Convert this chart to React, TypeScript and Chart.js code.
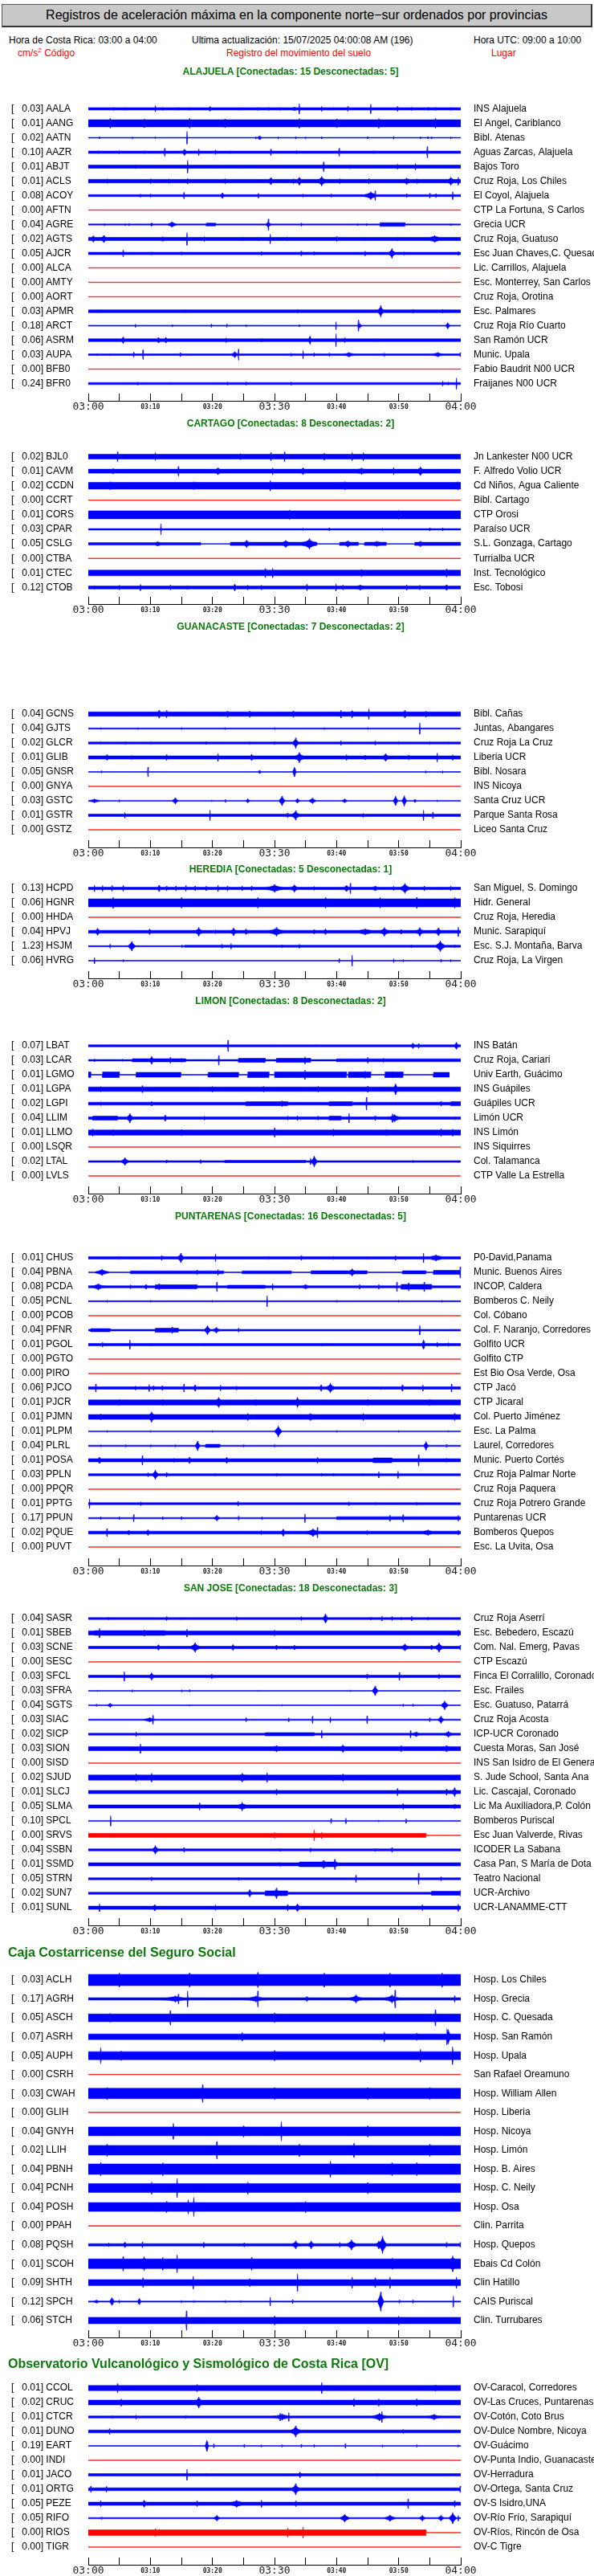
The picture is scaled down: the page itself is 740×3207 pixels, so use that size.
import React, { useEffect, useRef } from "react";
import { Chart, registerables } from "chart.js";

Chart.register(...registerables);

const FONT = "'Liberation Sans', Arial, Helvetica, sans-serif";
const MONO = "'DejaVu Sans Mono', monospace";
const BLUE = "#0000ff";
const RED = "#ff0000";
const GREEN = "#0b7a0b";
const FLAT = 0.35;

// ---------- time axis ----------
const timeTickValues = [0, 5, 10, 15, 20, 25, 30, 35, 40, 45, 50, 55, 60];
const timeTickLabels = ["03:00", "", "03:10", "", "03:20", "", "03:30", "", "03:40", "", "03:50", "", "04:00"];
const majorTimeTicks = [0, 30, 60];

// signal end (minutes after 03:00) when the record stops early
const signalEnd: Record<string, number> = { LGMO: 58.2, SRVS: 54.4, RIOS: 54.4 };

// events: [minute, amplitude] spike, or [minute, amplitude, duration] burst
// segments: [fromMinute, toMinute, amplitude]

// ---------- ALAJUELA ----------
const alajuelaCodes = ["AALA", "AANG", "AATN", "AAZR", "ABJT", "ACLS", "ACOY", "AFTN", "AGRE", "AGTS", "AJCR", "ALCA", "AMTY", "AORT", "APMR", "ARCT", "ASRM", "AUPA", "BFB0", "BFR0"];
const alajuelaPga = [0.03, 0.01, 0.02, 0.10, 0.01, 0.01, 0.08, 0, 0.04, 0.02, 0.05, 0, 0, 0, 0.03, 0.18, 0.06, 0.03, 0, 0.24];
const alajuelaPlaces = ["INS Alajuela", "El Angel, Cariblanco", "Bibl. Atenas", "Aguas Zarcas, Alajuela", "Bajos Toro", "Cruz Roja, Los Chiles", "El Coyol, Alajuela", "CTP La Fortuna, S Carlos", "Grecia UCR", "Cruz Roja, Guatuso", "Esc Juan Chaves,C. Quesada", "Lic. Carrillos, Alajuela", "Esc. Monterrey, San Carlos", "Cruz Roja, Orotina", "Esc. Palmares", "Cruz Roja Río Cuarto", "San Ramón UCR", "Munic. Upala", "Fabio Baudrit N00 UCR", "Fraijanes N00 UCR"];
const alajuelaBase = [1.5, 4.5, 0.45, 1.5, 2, 2.2, 1.2, 0.3, 0.7, 2, 1.5, 0.3, 0.3, 0.3, 1.8, 0.6, 1.8, 1, 0.3, 1.3];
const alajuelaEvents = [
  [[4.1, 2], [5.9, 1.8], [10.8, 4], [12, 2, 2], [14.5, 1.8], [16.3, 1.8], [19.6, 3, 0.5], [24.2, 1.8], [27.3, 2, 0.8], [29, 2, 1], [30.9, 2], [33.2, 2.5, 1.5], [34, 6.5], [37.6, 3], [39.5, 1.8], [41.8, 3], [45.5, 6], [49.8, 3, 0.8], [52, 2, 1], [54.7, 2], [55.9, 2], [58.4, 2]],
  [[3.5, 6], [9, 5.5], [16.3, 6], [22, 5.5], [34, 6], [40, 5.5], [46.8, 6], [55.9, 6]],
  [[1.8, 1.5], [7.1, 1.3], [10.8, 1.3], [15.9, 8], [27, 1.5], [27.6, 2.5, 0.8], [30.6, 1.5], [33.4, 1.5], [35, 1.3], [37.6, 1.5], [45, 1.5], [49.2, 1.8], [53.5, 1.5], [54.7, 1.5], [55.3, 1.5], [58.4, 1.3]],
  [[1.6, 1.8], [5, 2], [9, 1.8], [12.3, 5], [15.5, 4, 1.2], [17.8, 4], [20.5, 3], [23, 1.8], [29.4, 4], [33.5, 2], [40.4, 5], [46, 1.8], [54.6, 7]],
  [[7.6, 2.5], [13.5, 2.2], [16, 8], [20.9, 2.2], [25, 2.2], [37.9, 6], [37.9, 3.5, 0.8], [42.2, 2.5], [49.8, 3], [52.7, 4]],
  [[3, 2.8], [10, 3, 2], [13, 3, 2], [16, 3.5], [22, 3], [29.4, 4.5, 1.2], [33, 3, 1], [34, 5, 1.2], [37.6, 6, 1.6], [40.5, 3], [45.2, 3.5], [51.3, 4, 1.8], [53, 3], [58.4, 5, 1.6], [59.6, 5]],
  [[8.4, 2], [10, 2], [15.4, 4], [21.6, 3.5, 0.7], [27.4, 3], [34.6, 2], [39.1, 2], [45.5, 5, 2.2], [46.2, 6], [51.3, 2.5], [55, 3], [56, 2.5], [58.7, 5]],
  [],
  [[2.6, 1.5], [5.9, 1.5], [6.5, 1.5], [10.2, 2, 0.8], [13.5, 3.5, 1.5], [29, 7], [29, 4, 0.9], [34.3, 2], [43.4, 1.5], [44.8, 1.5], [58.4, 1.5]],
  [[0.8, 4, 1.2], [2.5, 4.5, 1.4], [12, 3], [15.9, 8], [18.7, 3], [24.8, 2.5], [27.5, 2.5], [29.3, 6], [32, 2.5], [40, 3], [44.6, 2.5], [49.8, 2.5], [55.8, 4.5, 3]],
  [[5.6, 4], [10.2, 2], [15, 2], [27.9, 2.5], [34.3, 3], [36.4, 2.5], [44.6, 3], [48.9, 6, 1], [50.9, 2], [59.6, 2.5]],
  [], [], [],
  [[2, 2], [15.7, 2], [33.7, 2.5], [47.1, 7, 1], [52.3, 2.5], [57.1, 2.5]],
  [[7.6, 2], [13.5, 1.5], [19.8, 2], [22.3, 2], [25.4, 1.5], [34, 1.5], [39.9, 5], [43.5, 7], [43.7, 3, 0.8], [57.9, 4, 0.8]],
  [[5.6, 4, 1], [11.3, 3.5, 0.8], [12.5, 3.5, 1], [22.2, 3], [27.9, 2.5], [35.7, 5, 0.6], [39.9, 8], [41.3, 3], [46.2, 2]],
  [[1.5, 1.5], [3.6, 1.5], [7.3, 3], [8.8, 6], [14.8, 2.5], [23.6, 4, 1.2], [24.2, 7], [32.7, 2], [34.6, 5], [36.4, 2.5], [38.8, 2], [42, 3, 2], [47.7, 2], [56.3, 3, 2], [59.9, 2.5]],
  [],
  [[8, 2], [13.2, 1.5], [22.4, 2], [25.4, 2], [32.7, 2], [57.1, 3], [58, 2], [59.3, 7]],
];
const alajuelaSegs: Record<string, number[][]> = { AGRE: [[19, 20.5, 1.8], [47, 51, 2.3]] };

// ---------- CARTAGO ----------
const cartagoCodes = ["BJL0", "CAVM", "CCDN", "CCRT", "CORS", "CPAR", "CSLG", "CTBA", "CTEC", "CTOB"];
const cartagoPga = [0.02, 0.01, 0.02, 0, 0.01, 0.03, 0.05, 0, 0.01, 0.12];
const cartagoPlaces = ["Jn Lankester N00 UCR", "F. Alfredo Volio UCR", "Cd Niños, Agua Caliente", "Bibl. Cartago", "CTP Orosi", "Paraíso UCR", "S.L. Gonzaga, Cartago", "Turrialba UCR", "Inst. Tecnológico", "Esc. Tobosi"];
const cartagoBase = [3, 2.5, 4.2, 0.3, 5, 0.9, 0.45, 0.3, 3.5, 1.8];
const cartagoEvents = [
  [[4.7, 6], [10.8, 5], [24.5, 4, 2.5], [29.4, 5], [31.6, 6], [38, 4.5], [42.5, 5], [44.3, 5]],
  [[4, 3.5, 2], [14.5, 6], [20.9, 4.5, 1.5], [29.7, 4], [34.6, 4.5, 1.2], [44, 4, 3], [49.2, 4.5], [53.5, 5.5, 1.5]],
  [[3.5, 5, 5], [17, 5], [29.3, 6.5], [41.3, 5], [59.5, 5]],
  [],
  [[32.4, 6, 2], [50, 5.5, 3]],
  [[11.7, 7], [34.6, 1.5], [38.8, 2], [47.4, 1.5], [55, 2], [57.1, 2]],
  [[11.2, 3, 2], [25.5, 4.5, 1.5], [31.8, 4.5, 2], [35.6, 6.5, 2.5], [41.8, 4, 1.8], [46.5, 3.5, 2.5], [53.5, 3.5, 1.5]],
  [],
  [[28.5, 5.5], [29.7, 6], [44, 4.5], [57.7, 5]],
  [[1, 2.5], [5, 3], [8.4, 4], [13.2, 3], [16, 2.5], [23.6, 4.5, 0.8], [25.7, 3], [27.9, 3], [35.2, 4], [39.9, 4.5], [41, 3], [43.8, 3.5, 2.5], [51.3, 3.5], [53.4, 3], [57.7, 3.5, 1.2]],
];
const cartagoSegs: Record<string, number[][]> = { CSLG: [[0, 18.1, 1.5], [22.9, 36.8, 2], [40.5, 43.5, 2], [44.5, 48, 2], [52.6, 60, 2]] };

// ---------- GUANACASTE ----------
const guanacasteCodes = ["GCNS", "GJTS", "GLCR", "GLIB", "GNSR", "GNYA", "GSTC", "GSTR", "GSTZ"];
const guanacastePga = [0.04, 0.04, 0.02, 0.01, 0.05, 0, 0.03, 0.01, 0];
const guanacastePlaces = ["Bibl. Cañas", "Juntas, Abangares", "Cruz Roja La Cruz", "Liberia UCR", "Bibl. Nosara", "INS Nicoya", "Santa Cruz UCR", "Parque Santa Rosa", "Liceo Santa Cruz"];
const guanacasteBase = [2.7, 0.7, 1.3, 2, 0.5, 0.3, 0.6, 1.5, 0.3];
const guanacasteEvents = [
  [[11.4, 5, 1], [12.6, 4.5], [22.4, 4], [26, 4, 1.2], [33, 4], [40.7, 5], [42.5, 4.5, 1], [45.2, 6.5], [51, 5, 1], [54.4, 4]],
  [[2, 1.3], [8, 1.3], [15, 1.3], [22, 1.3], [30, 1.3], [38, 1.3], [45, 1.3], [53.4, 7]],
  [[2, 1.8], [6, 2], [10, 1.8], [19, 2], [26, 1.8], [30, 2], [33.4, 6.5, 1], [40.7, 3], [46.2, 2.5], [50, 1.8], [55, 1.8], [58, 1.8]],
  [[3, 3.5, 1], [7, 2.5], [12.6, 3.5], [20.9, 5], [26.3, 4, 0.8], [34, 6.5, 1.5], [41.6, 3.5], [44.6, 3], [47.9, 5, 1.5], [51.6, 3], [56.2, 5.5], [58.7, 3.5]],
  [[2.1, 1.5], [9.6, 6], [27.6, 2, 0.6], [33.2, 6, 0.6], [54.4, 1.5], [57.1, 1.5]],
  [],
  [[1, 2.5, 2], [5, 1.5], [14, 4, 1], [19.9, 1.2], [22.1, 2], [25.7, 2.5, 0.8], [31.2, 6, 1], [33.7, 3, 0.8], [36.1, 3.5, 1.2], [41.3, 2.5, 1], [49.5, 6, 0.8], [50.9, 6.5, 0.8], [52.6, 2, 0.6], [56.2, 1.2]],
  [[5.9, 3.5], [19.6, 6.5], [32.1, 3], [33.4, 6, 1.2], [44.3, 2.5], [54, 6.5], [55.5, 4]],
  [],
];
const guanacasteSegs: Record<string, number[][]> = {};

// ---------- HEREDIA ----------
const herediaCodes = ["HCPD", "HGNR", "HHDA", "HPVJ", "HSJM", "HVRG"];
const herediaPga = [0.13, 0.06, 0, 0.04, 1.23, 0.06];
const herediaPlaces = ["San Miguel, S. Domingo", "Hidr. General", "Cruz Roja, Heredia", "Munic. Sarapiquí", "Esc. S.J. Montaña, Barva", "Cruz Roja, La Virgen"];
const herediaBase = [1.5, 5, 0.3, 1.8, 0.7, 0.5];
const herediaEvents = [
  [[1, 4], [2.3, 3.5], [3.8, 3.5], [5.6, 3.5], [11.4, 4, 1], [12.6, 3], [14.1, 3], [15.7, 3.5], [17.2, 3], [19, 3], [20.9, 4], [22.4, 3], [24.8, 3], [26.3, 3], [30, 5, 3], [33.2, 4.5, 1.5], [36.4, 2.5], [41.6, 4, 1.5], [42.2, 6.5], [46.2, 3, 2], [49.2, 3], [51, 6.5, 1.5], [54.1, 3], [56.5, 2], [58.4, 3]],
  [[4, 7], [15, 6.5], [27.3, 6.5], [38.2, 6.5], [47, 6.5], [52.9, 7], [59, 6.5]],
  [],
  [[1.5, 4.5, 1.2], [9.9, 3.5, 0.8], [17.8, 5.5, 1.2], [20.5, 2.5], [23.4, 5, 1.2], [25.4, 3.5, 0.8], [30.3, 5.5, 2.5], [36.4, 3, 0.8], [38.2, 3.5, 1], [44.6, 4, 4], [47.7, 5.5, 1.5], [50.4, 3, 1], [53.4, 5.5, 1.2], [56.4, 5, 1.2], [59.6, 6]],
  [[3.5, 2.5], [7, 6, 1.2], [15.1, 2], [21.5, 2.5], [23, 3.5], [31.2, 2], [34, 2.5], [52, 2], [56.7, 7, 1.5], [59, 2]],
  [[1, 4], [5.6, 1.5], [40.4, 2.5], [42.5, 7], [49.2, 2.5], [50.7, 1.5], [56.8, 2], [58.4, 1.5]],
];
const herediaSegs: Record<string, number[][]> = { HSJM: [[15.5, 60, 1.3]] };

// ---------- LIMON ----------
const limonCodes = ["LBAT", "LCAR", "LGMO", "LGPA", "LGPI", "LLIM", "LLMO", "LSQR", "LTAL", "LVLS"];
const limonPga = [0.07, 0.03, 0.01, 0.01, 0.02, 0.04, 0.01, 0, 0.02, 0];
const limonPlaces = ["INS Batán", "Cruz Roja, Cariari", "Univ Earth, Guácimo", "INS Guápiles", "Guápiles UCR", "Limón UCR", "INS Limón", "INS Siquirres", "Col. Talamanca", "CTP Valle La Estrella"];
const limonBase = [1.3, 0.9, 0.45, 2.8, 1.8, 1.5, 3.2, 0.3, 1, 0.3];
const limonEvents = [
  [[3.5, 1.5], [22.5, 7], [29.4, 1.5], [36.7, 1.5], [52.3, 3.5, 0.8], [53.2, 3], [59.3, 4.5, 0.8]],
  [[1, 2], [5.5, 1.5], [10.2, 5, 1], [13.2, 3.5], [15, 2.5], [21, 6], [28.2, 3], [34.9, 4.5], [45, 3.5], [47.5, 2.5]],
  [[0.2, 3.5], [3.6, 3.5], [34.9, 6], [44.6, 4.5], [49, 4]],
  [[2, 3.5], [8.7, 4.5], [20, 3.5], [28.2, 3.5], [37, 3.5], [45, 4], [49.5, 7, 1]],
  [[2, 2.5], [10.2, 3], [31.2, 3.5], [40, 2.5], [44.8, 8], [56.8, 3]],
  [[6.7, 6, 1], [12.4, 4, 0.8], [18.7, 2.5], [32.1, 2.5], [33.7, 3], [37, 2.5], [42, 6], [46.2, 3], [49.3, 4.5, 2.5], [49, 5.5], [59, 2]],
  [[0.7, 4.5], [4, 4], [15, 4], [30, 6], [39.5, 4.5], [48, 4], [56.8, 4.5], [58.7, 4.5]],
  [],
  [[5.9, 5, 1.2], [12.6, 2], [18.1, 2.5], [35.8, 4], [36.4, 7, 1], [52.3, 1.5], [59.6, 1.5]],
  [],
];
const limonSegs: Record<string, number[][]> = {
  LCAR: [[7.1, 15.7, 2], [24.2, 28.5, 2.5], [30.3, 35.8, 2.5], [40, 60, 1.8]],
  LGMO: [[0, 0.4, 3.5], [2.3, 5, 3.5], [7.7, 14.9, 3], [19.3, 24.2, 3], [25.7, 29.1, 3.5], [30, 41.6, 3.5], [41.9, 45.5, 3.5], [47.8, 50.7, 3.5], [55.6, 58.2, 3]],
  LGPI: [[25.4, 32.1, 2.5], [38.8, 42.5, 2.5], [58.4, 60, 2.5]],
  LLIM: [[0.7, 4.7, 2.5], [38.8, 40.7, 2.5]],
  LTAL: [[22, 35, 1.5]],
};

// ---------- PUNTARENAS ----------
const puntarenasCodes = ["CHUS", "PBNA", "PCDA", "PCNL", "PCOB", "PFNR", "PGOL", "PGTO", "PIRO", "PJCO", "PJCR", "PJMN", "PLPM", "PLRL", "POSA", "PPLN", "PPQR", "PPTG", "PPUN", "PQUE", "PUVT"];
const puntarenasPga = [0.01, 0.04, 0.08, 0.05, 0, 0.04, 0.01, 0, 0, 0.06, 0.01, 0.01, 0.01, 0.04, 0.01, 0.03, 0, 0.01, 0.17, 0.02, 0];
const puntarenasPlaces = ["P0-David,Panama", "Munic. Buenos Aires", "INCOP, Caldera", "Bomberos C. Neily", "Col. Cóbano", "Col. F. Naranjo, Corredores", "Golfito UCR", "Golfito CTP", "Est Bio Osa Verde, Osa", "CTP Jacó", "CTP Jicaral", "Col. Puerto Jiménez", "Esc. La Palma", "Laurel, Corredores", "Munic. Puerto Cortés", "Cruz Roja Palmar Norte", "Cruz Roja Paquera", "Cruz Roja Potrero Grande", "Puntarenas UCR", "Bomberos Quepos", "Esc. La Uvita, Osa"];
const puntarenasBase = [1.5, 0.45, 1.3, 0.7, 0.3, 1, 1.5, 0.3, 0.3, 1.5, 3.2, 3, 0.6, 0.8, 2, 1.3, 0.3, 1.3, 0.8, 1.8, 0.3];
const puntarenasEvents = [
  [[5, 2], [11.8, 3], [14.9, 6, 1], [20.5, 5], [29, 2], [34.3, 3], [39.5, 2], [45, 2], [49.5, 3], [56, 4, 4], [54, 6]],
  [[2.2, 4, 2.5], [17.5, 3], [20.9, 3.5], [42.5, 4.5, 1.5], [59.9, 7]],
  [[1.6, 4, 2.5], [6.8, 2.5], [9.3, 3, 1], [11.4, 4], [20.7, 6], [29.7, 4], [35, 3, 2], [43.7, 3], [46.8, 3], [49.7, 6], [51.6, 5], [54.1, 6]],
  [[3, 1.3], [10, 1.3], [20, 1.3], [28.8, 7], [40, 1.3], [50, 1.3], [57, 1.3]],
  [],
  [[13.5, 4], [19.2, 6, 1], [20.6, 3.5, 1.2], [24.2, 2.5], [53.4, 6]],
  [[2.3, 3], [6.7, 6], [10.2, 2], [18.7, 1.8], [37.6, 2], [54, 6, 0.6], [56.2, 3], [58, 2.5]],
  [], [],
  [[1.2, 5], [7.6, 2.5], [9.8, 4.5], [10.5, 3], [11.9, 3], [15.4, 5], [17.2, 4, 1], [21.3, 3.5], [23.9, 2.5], [37.5, 4, 0.8], [39, 6, 1.3], [44.3, 1.5], [47.1, 2], [50.6, 4, 0.8], [53.9, 4], [58.5, 5]],
  [[5, 4], [12, 4], [21, 6.5, 1.5], [27, 4], [33.7, 6.5, 1], [45, 4], [55, 4]],
  [[2, 4, 3.5], [10.2, 6.5, 1.5], [25.7, 4.5], [35.8, 4.5, 2], [44.3, 4.5], [59, 4.5]],
  [[3, 1.2], [10, 1.2], [20, 1.2], [30.6, 7, 1.2], [40, 1.2], [50, 1.2], [58, 1.2]],
  [[2, 1.5], [6, 1.5], [10, 1.5], [14, 1.5], [17.6, 6, 0.8], [25, 1.5], [30, 1.5], [54.4, 5.5, 0.8], [57.7, 2]],
  [[1.8, 4, 1], [8.7, 6], [13.8, 2.5], [16.3, 4, 0.8], [22.3, 4, 0.8], [36.9, 3.5], [53.2, 7], [57.7, 2.5]],
  [[9.6, 2.5], [10.8, 6, 1], [12.6, 3], [20.5, 2], [30.3, 2], [37.6, 2], [39.5, 2], [44.3, 1.5], [46.8, 4], [49.9, 4.5]],
  [],
  [[0.2, 6], [8.5, 2.5], [24.1, 3], [42, 2.5], [46.2, 1.8], [52.9, 2]],
  [[2, 2], [5, 2], [7.3, 4.5], [12, 2], [15, 2], [20.7, 3.5, 1], [24.2, 2.5], [28, 2], [34.9, 5.5], [48.6, 4], [50.7, 4.5], [59.6, 3.5]],
  [[3, 5], [6.5, 3, 0.8], [9.6, 3.5, 1], [27.9, 2.5], [31.4, 4.5, 1], [36.2, 5, 2.5], [36.9, 6.5], [44.9, 2.5], [54.7, 3.5, 3], [59.6, 3]],
  [],
];
const puntarenasSegs: Record<string, number[][]> = {
  PBNA: [[6.8, 21.8, 1.8], [24.8, 32.7, 1.8], [35.9, 44.9, 2], [50.6, 54.4, 2], [55.6, 60, 2.5]],
  PCDA: [[10.8, 17.5, 2.5], [22.4, 28.5, 2], [50.4, 55.3, 3]],
  PFNR: [[0.4, 3.5, 2], [10.8, 14.5, 2.5]],
  PLRL: [[18.9, 21.2, 2]],
  POSA: [[45.9, 48.9, 3]],
  PPUN: [[40, 60, 1.8]],
};

// ---------- SAN JOSE ----------
const sanJoseCodes = ["SASR", "SBEB", "SCNE", "SESC", "SFCL", "SFRA", "SGTS", "SIAC", "SICP", "SION", "SISD", "SJUD", "SLCJ", "SLMA", "SPCL", "SRVS", "SSBN", "SSMD", "STRN", "SUN7", "SUNL"];
const sanJosePga = [0.04, 0.01, 0.03, 0, 0.03, 0.03, 0.04, 0.03, 0.02, 0.03, 0, 0.02, 0.01, 0.05, 0.10, 0, 0.04, 0.01, 0.05, 0.02, 0.01];
const sanJosePlaces = ["Cruz Roja Aserrí", "Esc. Bebedero, Escazú", "Com. Nal. Emerg, Pavas", "CTP Escazú", "Finca El Corralillo, Coronado", "Esc. Frailes", "Esc. Guatuso, Patarrá", "Cruz Roja Acosta", "ICP-UCR Coronado", "Cuesta Moras, San José", "INS San Isidro de El General", "S. Jude School, Santa Ana", "Lic. Cascajal, Coronado", "Lic Ma Auxiliadora,P. Colón", "Bomberos Puriscal", "Esc Juan Valverde, Rivas", "ICODER La Sabana", "Casa Pan, S María de Dota", "Teatro Nacional", "UCR-Archivo", "UCR-LANAMME-CTT"];
const sanJoseBase = [1.2, 2.5, 1.5, 0.3, 1.5, 0.5, 0.5, 0.8, 1.2, 2.5, 0.3, 3.2, 2, 2, 0.6, 2.5, 1.3, 2, 1.2, 1.3, 2];
const sanJoseEvents = [
  [[3.3, 2], [12.6, 2.5], [15.1, 1.5], [23.9, 2.5], [34.3, 2.5], [38.2, 6, 0.8], [45.5, 2], [47.3, 3], [48.9, 2.5], [50.4, 2], [52.1, 3], [54.7, 2]],
  [[1.8, 6], [9, 4], [15.9, 5], [30, 3.5], [59.6, 4]],
  [[11.3, 3.5, 1], [17.2, 6, 1.5], [23.3, 3.5, 1], [30.3, 3, 0.6], [33.2, 3, 0.6], [51, 4.5, 1.5], [55.3, 3, 1], [56.5, 6, 1.2], [59.9, 3]],
  [],
  [[5.8, 6], [10.2, 4.5, 1], [19.9, 3], [44.9, 3], [50.1, 5], [56.5, 3]],
  [[1.5, 1], [7.1, 1.5], [15.1, 1.5], [16.3, 1.5], [27.3, 1], [42.2, 1], [46.2, 6, 1], [57.4, 1]],
  [[1.3, 1.5], [3.5, 2.5, 1], [16.3, 1], [31.2, 1], [50.7, 1.5], [52.3, 1.5], [57.4, 5.5, 1.2]],
  [[9.9, 3, 2], [10.4, 5.5], [25.4, 2.5], [32.3, 2.5], [36.1, 4.5], [39, 3.5], [44.9, 5], [55, 2.5], [56.8, 4.5, 1]],
  [[7.7, 3], [37.6, 5], [52.8, 3, 2], [51.9, 4.5], [58, 4, 1.5]],
  [[8.4, 6], [30.3, 4, 3], [41, 4.5, 1.5], [50.4, 4], [57.7, 4, 3.5]],
  [],
  [[7.7, 5], [10.2, 5.5], [24.8, 5.5, 2], [28.8, 6], [41, 4.5, 1.5]],
  [[30.3, 3.5], [49.8, 4.5], [57.7, 4], [59, 5.5, 1]],
  [[17.9, 4.5], [24.8, 4.5, 2.5], [24.8, 5.5], [50.7, 3.5], [59, 3]],
  [[3.6, 6.5], [39.1, 3], [41.5, 3.5], [46.8, 1.2], [51.2, 3]],
  [[4.1, 3], [30, 3.5], [36.4, 7], [37.6, 4]],
  [[10.8, 5.5, 1], [15.4, 3], [30.9, 2], [35.8, 2.5], [46.2, 2], [48.9, 3]],
  [[30.9, 2.5], [37.9, 5, 1.5], [39.7, 6.5]],
  [[10.2, 2.5], [24.2, 2], [43.1, 4.5], [53.2, 7], [56.8, 2.5]],
  [[26, 4.5, 0.8], [30.3, 6.5, 1], [59.9, 3.5]],
  [[1.8, 5], [10.7, 4, 1], [20.5, 3.5], [32.1, 4], [33.7, 5, 1.2], [53.8, 3.5], [59.6, 4.5]],
];
const sanJoseSegs: Record<string, number[][]> = {
  SBEB: [[1, 12.4, 3]],
  SICP: [[28.5, 36.4, 2]],
  SSMD: [[34, 40, 3]],
  SUN7: [[28.5, 32.1, 3], [55.3, 59.9, 2.5]],
};

// ---------- CCSS ----------
const ccssCodes = ["ACLH", "AGRH", "ASCH", "ASRH", "AUPH", "CSRH", "CWAH", "GLIH", "GNYH", "LLIH", "PBNH", "PCNH", "POSH", "PPAH", "PQSH", "SCOH", "SHTH", "SPCH", "STCH"];
const ccssPga = [0.03, 0.17, 0.05, 0.07, 0.05, 0, 0.03, 0, 0.04, 0.02, 0.04, 0.04, 0.04, 0, 0.08, 0.01, 0.09, 0.12, 0.06];
const ccssPlaces = ["Hosp. Los Chiles", "Hosp. Grecia", "Hosp. C. Quesada", "Hosp. San Ramón", "Hosp. Upala", "San Rafael Oreamuno", "Hosp. William Allen", "Hosp. Liberia", "Hosp. Nicoya", "Hosp. Limón", "Hosp. B. Aires", "Hosp. C. Neily", "Hosp. Osa", "Clin. Parrita", "Hosp. Quepos", "Ebais Cd Colón", "Clin Hatillo", "CAIS Puriscal", "Clin. Turrubares"];
const ccssBase = [7, 1.5, 4.8, 3.5, 5, 0.3, 6.5, 0.3, 5.5, 6, 6.5, 5.5, 5.5, 0.3, 1.5, 6, 3.8, 0.7, 4];
const ccssEvents = [
  [[5, 9], [16.3, 9], [27.3, 9.5], [38, 9], [48.6, 9], [57, 9]],
  [[14, 4, 5], [14.5, 6], [16, 10], [27, 4, 4], [27.3, 10], [35.2, 3, 1], [43.1, 5, 2], [48.9, 5, 2.5], [49.4, 11], [59, 4]],
  [[3.5, 5.5], [13.2, 9], [30, 6], [55.9, 10]],
  [[24.8, 5.5], [47.7, 6], [52.9, 4.5], [58, 9, 1], [57.8, 10]],
  [[2, 10], [5.3, 6], [30, 6.5], [53.5, 8], [58.7, 7, 1.5], [58.7, 11]],
  [],
  [[3, 7.5], [18.4, 11], [30, 7.5], [45, 7.5], [55, 7.5]],
  [],
  [[13.7, 10], [25, 7], [31.1, 12], [45, 7]],
  [[3, 7.5], [20.7, 11], [34, 8], [42.8, 9], [55, 7.5]],
  [[2, 8.5], [12, 8], [39, 10], [48.9, 8], [52.9, 8]],
  [[10.2, 7.5], [14.3, 12], [25.7, 7.5], [45, 7]],
  [[12.6, 7], [16.1, 9], [17, 12], [35, 7]],
  [],
  [[3.3, 2.5], [5.9, 3.5, 1], [8.7, 3.5], [18.6, 3.5], [25.1, 2.5], [33.4, 5, 1.2], [35.9, 5, 1], [40.5, 3], [42.4, 6.5, 1.5], [46.8, 5, 1], [47.4, 11, 1.2], [57.7, 3], [59.9, 3]],
  [[5.6, 9], [9, 9, 2], [12, 8], [14.3, 11], [26.3, 8], [49, 7, 3], [58.7, 10, 1.5]],
  [[8.8, 6], [16.9, 8], [26, 5], [33.7, 11], [42.5, 7], [46.2, 6], [48.6, 7], [59.3, 7]],
  [[1.3, 2, 1.2], [3.8, 5, 0.8], [5, 2], [8.2, 4, 0.6], [15, 1.5], [17, 1.5], [22, 1.5], [24.5, 1.5], [29.3, 5.5], [32.9, 2.5], [47.1, 12, 1], [50.1, 2], [52.3, 2], [58.8, 7]],
  [[15.8, 12], [30, 5.5], [50, 5.5]],
];
const ccssSegs: Record<string, number[][]> = {};

// ---------- OV ----------
const ovCodes = ["CCOL", "CRUC", "CTCR", "DUNO", "EART", "INDI", "JACO", "ORTG", "PEZE", "RIFO", "RIOS", "TIGR"];
const ovPga = [0.01, 0.02, 0.01, 0.01, 0.19, 0, 0.01, 0.01, 0.05, 0.05, 0, 0];
const ovPlaces = ["OV-Caracol, Corredores", "OV-Las Cruces, Puntarenas", "OV-Cotón, Coto Brus", "OV-Dulce Nombre, Nicoya", "OV-Guácimo", "OV-Punta Indio, Guanacaste", "OV-Herradura", "OV-Ortega, Santa Cruz", "OV-S Isidro,UNA", "OV-Río Frío, Sarapiquí", "OV-Ríos, Rincón de Osa", "OV-C Tigre"];
const ovBase = [3.2, 3, 1.3, 1.8, 0.5, 0.3, 1.5, 1.8, 2, 0.8, 3.5, 0.3];
const ovEvents = [
  [[4.7, 5.5], [17.5, 4.5], [37.6, 7], [55.9, 4]],
  [[5.3, 4.5], [17.8, 7, 1.5], [42.8, 5], [46.8, 4.5], [52.9, 4.5]],
  [[3.8, 2], [7.7, 2.5], [15.7, 2], [31.2, 4, 3.5], [30.9, 5], [32.3, 5.5], [46.9, 5, 2.5], [47.3, 7], [55.7, 3.5, 2.5]],
  [[3.4, 3.5], [33.4, 7, 1.5], [50.7, 2.5]],
  [[19.1, 7, 0.6], [20.2, 2.5], [25.1, 2], [27.9, 1.5], [31.2, 1.5], [34.3, 2], [36.4, 2], [41.4, 3], [47.4, 1.5], [52.9, 1.5], [59.6, 1.5]],
  [],
  [[15.9, 7], [19, 2], [34.1, 3.5, 0.8], [46.5, 2], [52.3, 1.5]],
  [[0.4, 4], [2.9, 3.5], [33.4, 7, 1.2], [59.9, 4]],
  [[2, 4], [9, 4.5, 1], [17.5, 3.5], [23.9, 4.5, 3], [27.9, 4.5], [33.4, 3.5], [51.5, 6], [59, 4]],
  [[2.1, 1.5], [20.7, 3.5, 1], [41.3, 5, 1.5], [48.6, 4, 1.8], [53.8, 3.5, 1], [56.8, 3.5, 1], [58.7, 7, 1.2], [59.6, 3.5]],
  [[10.8, 5], [32.1, 5.5], [34.6, 7]],
  [],
];
const ovSegs: Record<string, number[][]> = {};

type Sec = {
  name: string;
  heading?: string;
  codes: string[];
  pga: number[];
  places: string[];
  base: number[];
  events: number[][][];
  segs: Record<string, number[][]>;
};

const SECTIONS: Sec[] = [
  { name: "ALAJUELA", codes: alajuelaCodes, pga: alajuelaPga, places: alajuelaPlaces, base: alajuelaBase, events: alajuelaEvents, segs: alajuelaSegs },
  { name: "CARTAGO", codes: cartagoCodes, pga: cartagoPga, places: cartagoPlaces, base: cartagoBase, events: cartagoEvents, segs: cartagoSegs },
  { name: "GUANACASTE", codes: guanacasteCodes, pga: guanacastePga, places: guanacastePlaces, base: guanacasteBase, events: guanacasteEvents, segs: guanacasteSegs },
  { name: "HEREDIA", codes: herediaCodes, pga: herediaPga, places: herediaPlaces, base: herediaBase, events: herediaEvents, segs: herediaSegs },
  { name: "LIMON", codes: limonCodes, pga: limonPga, places: limonPlaces, base: limonBase, events: limonEvents, segs: limonSegs },
  { name: "PUNTARENAS", codes: puntarenasCodes, pga: puntarenasPga, places: puntarenasPlaces, base: puntarenasBase, events: puntarenasEvents, segs: puntarenasSegs },
  { name: "SAN JOSE", codes: sanJoseCodes, pga: sanJosePga, places: sanJosePlaces, base: sanJoseBase, events: sanJoseEvents, segs: sanJoseSegs },
  { name: "CCSS", heading: "Caja Costarricense del Seguro Social", codes: ccssCodes, pga: ccssPga, places: ccssPlaces, base: ccssBase, events: ccssEvents, segs: ccssSegs },
  { name: "OV", heading: "Observatorio Vulcanológico y Sismológico de Costa Rica [OV]", codes: ovCodes, pga: ovPga, places: ovPlaces, base: ovBase, events: ovEvents, segs: ovSegs },
];

// ---------- page layout (pixels) ----------
type Lay = { titleY: number; firstY: number; step: number; axisY: number; big?: boolean };
const LAYOUT: Lay[] = [
  { titleY: 89, firstY: 135.5, step: 18, axisY: 499 },
  { titleY: 527, firstY: 568.5, step: 18.1, axisY: 752 },
  { titleY: 780, firstY: 889, step: 18, axisY: 1055 },
  { titleY: 1082, firstY: 1106, step: 18, axisY: 1218 },
  { titleY: 1246, firstY: 1302, step: 18, axisY: 1486 },
  { titleY: 1514, firstY: 1566, step: 18, axisY: 1949 },
  { titleY: 1977, firstY: 2015, step: 18, axisY: 2397 },
  { titleY: 2431, firstY: 2465, step: 23.55, axisY: 2910, big: true },
  { titleY: 2943, firstY: 2973, step: 18, axisY: 3193, big: true },
];
const TOP_PAD = 26;
const PLOT_LEFT = 110;
const PLOT_RIGHT = 574;
const PAGE_W = 740;

function evalFeat(f: number[][], t: number): number {
  if (t < f[0][0] || t > f[f.length - 1][0]) return 0;
  for (let k = 0; k < f.length - 1; k++) {
    const t0 = f[k][0], v0 = f[k][1], t1 = f[k + 1][0], v1 = f[k + 1][1];
    if (t >= t0 && t <= t1) return t1 === t0 ? Math.max(v0, v1) : v0 + ((v1 - v0) * (t - t0)) / (t1 - t0);
  }
  return f[f.length - 1][1];
}

// builds the drawn outline (upper/lower) of one trace from its read values
function envelope(base: number, events: number[][], segs: number[][], end: number, tail: boolean): number[][] {
  const feats: number[][][] = [[[0, base], [end, base]]];
  if (tail && end < 60) feats.push([[end + 0.001, FLAT], [60, FLAT]]);
  segs.forEach((s) => feats.push([[s[0], s[2]], [s[1], s[2]]]));
  events.forEach((e) => {
    const t = e[0], a = e[1], d = e[2];
    if (d === undefined) feats.push([[t - 0.07, 0], [t, a], [t + 0.07, 0]]);
    else feats.push([[t - d / 2, 0], [t - d / 4, a * 0.4], [t - 0.08, a * 0.7], [t, a], [t + 0.08, a * 0.7], [t + d / 4, a * 0.4], [t + d / 2, 0]]);
  });
  const stop = tail ? 60 : end;
  const ts = new Set<number>();
  feats.forEach((f) => f.forEach((p) => ts.add(p[0])));
  segs.forEach((s) => { ts.add(s[0] - 0.001); ts.add(s[1] + 0.001); });
  const times = Array.from(ts).filter((t) => t >= 0 && t <= stop).sort((a, b) => a - b);
  return times.map((t) => [t, Math.max(...feats.map((f) => evalFeat(f, t)))]);
}

function SeismoSection({ sec, lay }: { sec: Sec; lay: Lay }) {
  const canvasRef = useRef<HTMLCanvasElement>(null);
  const span = lay.axisY - lay.firstY;
  const H = Math.round(TOP_PAD + span + 40);
  const nConn = sec.pga.filter((p) => p > 0).length;
  const nDisc = sec.pga.length - nConn;
  const title = sec.heading ?? `${sec.name} [Conectadas: ${nConn} Desconectadas: ${nDisc}]`;

  useEffect(() => {
    const canvas = canvasRef.current;
    if (!canvas) return;
    const datasets: any[] = [];
    sec.codes.forEach((code, i) => {
      const disconnected = sec.pga[i] === 0;
      const end = signalEnd[code] ?? 60;
      const env = envelope(sec.base[i], sec.events[i] || [], sec.segs[code] || [], end, disconnected);
      const rowY = i * lay.step;
      const color = disconnected ? RED : BLUE;
      const common = { borderColor: color, backgroundColor: color, borderWidth: 0.55, pointRadius: 0, tension: 0, clip: false, yAxisID: "y" };
      datasets.push({ ...common, label: code + "+", data: env.map((p) => ({ x: p[0], y: rowY - p[1] })), fill: false });
      datasets.push({ ...common, label: code + "-", data: env.map((p) => ({ x: p[0], y: rowY + p[1] })), fill: "-1" });
    });
    const leftLabels = sec.codes.map((c, i) => `[   ${sec.pga[i].toFixed(2)}] ${c}`);
    const rowTicks = sec.codes.map((_, i) => ({ value: i * lay.step }));
    const labelFont = { family: FONT, size: 12 };
    const yAxis = (labels: string[], position: string, width: number, crossAlign: string, padding: number) => ({
      type: "linear",
      position,
      reverse: true,
      min: -TOP_PAD,
      max: span,
      afterBuildTicks: (s: any) => { s.ticks = rowTicks.map((t) => ({ ...t })); },
      afterFit: (s: any) => { s.width = width; },
      ticks: { autoSkip: false, crossAlign, padding, color: "#000", font: labelFont, callback: (_v: any, idx: number) => labels[idx] },
      grid: { display: false, drawTicks: false },
      border: { display: false },
    });

    const chart = new Chart(canvas, {
      type: "line",
      data: { datasets },
      options: {
        responsive: false,
        animation: false,
        events: [],
        layout: { padding: { left: 14, right: 0, top: TOP_PAD, bottom: 2 } },
        plugins: { legend: { display: false }, tooltip: { enabled: false }, title: { display: false } },
        scales: {
          x: {
            type: "linear",
            position: "bottom",
            min: 0,
            max: 60,
            afterBuildTicks: (s: any) => { s.ticks = timeTickValues.map((v) => ({ value: v })); },
            ticks: {
              autoSkip: false,
              maxRotation: 0,
              minRotation: 0,
              padding: 9,
              color: "#222",
              callback: (_v: any, idx: number) => timeTickLabels[idx],
              font: (ctx: any) => {
                const v = ctx.tick ? ctx.tick.value : 0;
                return majorTimeTicks.includes(v)
                  ? { family: MONO, size: 13, lineHeight: 16 / 13 }
                  : { family: MONO, size: 8, weight: "bold", lineHeight: 2 };
              },
            },
            grid: { drawOnChartArea: false, drawTicks: true, tickLength: -9, color: "#000", lineWidth: 1 },
            border: { display: true, color: "#000", width: 1 },
          },
          y: yAxis(leftLabels, "left", PLOT_LEFT - 14, "far", 0),
          y2: yAxis(sec.places, "right", PAGE_W - PLOT_RIGHT, "near", 16),
        },
      } as any,
    } as any);

    const area = chart.chartArea;
    const top = lay.axisY - area.bottom;
    canvas.style.top = `${top}px`;
    const r0 = lay.firstY - top;
    const min = area.top - r0;
    const max = min + (area.bottom - area.top);
    ["y", "y2"].forEach((id) => {
      const o = (chart.options.scales as any)[id];
      o.min = min;
      o.max = max;
    });
    chart.update();
    return () => chart.destroy();
  }, [sec, lay]);

  const titleStyle: React.CSSProperties = lay.big
    ? { position: "absolute", left: 10, top: lay.titleY - 10, lineHeight: "20px", fontSize: 16, fontWeight: "bold", color: GREEN, whiteSpace: "nowrap" }
    : { position: "absolute", left: 0, width: 724, textAlign: "center", top: lay.titleY - 8, lineHeight: "16px", fontSize: 12, fontWeight: "bold", color: GREEN, whiteSpace: "nowrap" };

  return (
    <>
      <div style={titleStyle}>{title}</div>
      <canvas
        ref={canvasRef}
        width={PAGE_W}
        height={H}
        style={{ position: "absolute", left: 0, top: lay.axisY - span - TOP_PAD, width: PAGE_W, height: H }}
      />
    </>
  );
}

const headerTitle = "Registros de aceleración máxima en la componente norte−sur ordenados por provincias";
const headerLocal = "Hora de Costa Rica: 03:00 a 04:00";
const headerUpdate = "Ultima actualización: 15/07/2025 04:00:08 AM (196)";
const headerUtc = "Hora UTC: 09:00 a 10:00";

export default function App() {
  const txt = (left: number, top: number, color: string): React.CSSProperties => ({
    position: "absolute", left, top, fontSize: 12, lineHeight: "14px", color, whiteSpace: "nowrap",
  });
  return (
    <div style={{ position: "relative", width: PAGE_W, height: 3207, overflow: "hidden", background: "#fff", fontFamily: FONT }}>
      <style>{`body{margin:0;background:#fff}`}</style>
      <div
        style={{
          position: "absolute", left: 2, top: 5, width: 736, height: 29, boxSizing: "border-box",
          background: "#c9c9c9", borderTop: "1px solid #555", borderLeft: "1px solid #555",
          borderRight: "2px solid #333", borderBottom: "2px solid #333",
          textAlign: "center", fontSize: 16, lineHeight: "26px", color: "#000", whiteSpace: "nowrap",
        }}
      >
        {headerTitle}
      </div>
      <div style={txt(11, 43, "#000")}>{headerLocal}</div>
      <div style={txt(239, 43, "#000")}>{headerUpdate}</div>
      <div style={txt(590, 43, "#000")}>{headerUtc}</div>
      <div style={txt(22, 59, RED)}>cm/s<sup style={{ fontSize: 8, lineHeight: 0 }}>2</sup> Código</div>
      <div style={txt(282, 59, RED)}>Registro del movimiento del suelo</div>
      <div style={txt(612, 59, RED)}>Lugar</div>
      {SECTIONS.map((s, k) => (
        <SeismoSection key={s.name} sec={s} lay={LAYOUT[k]} />
      ))}
    </div>
  );
}
